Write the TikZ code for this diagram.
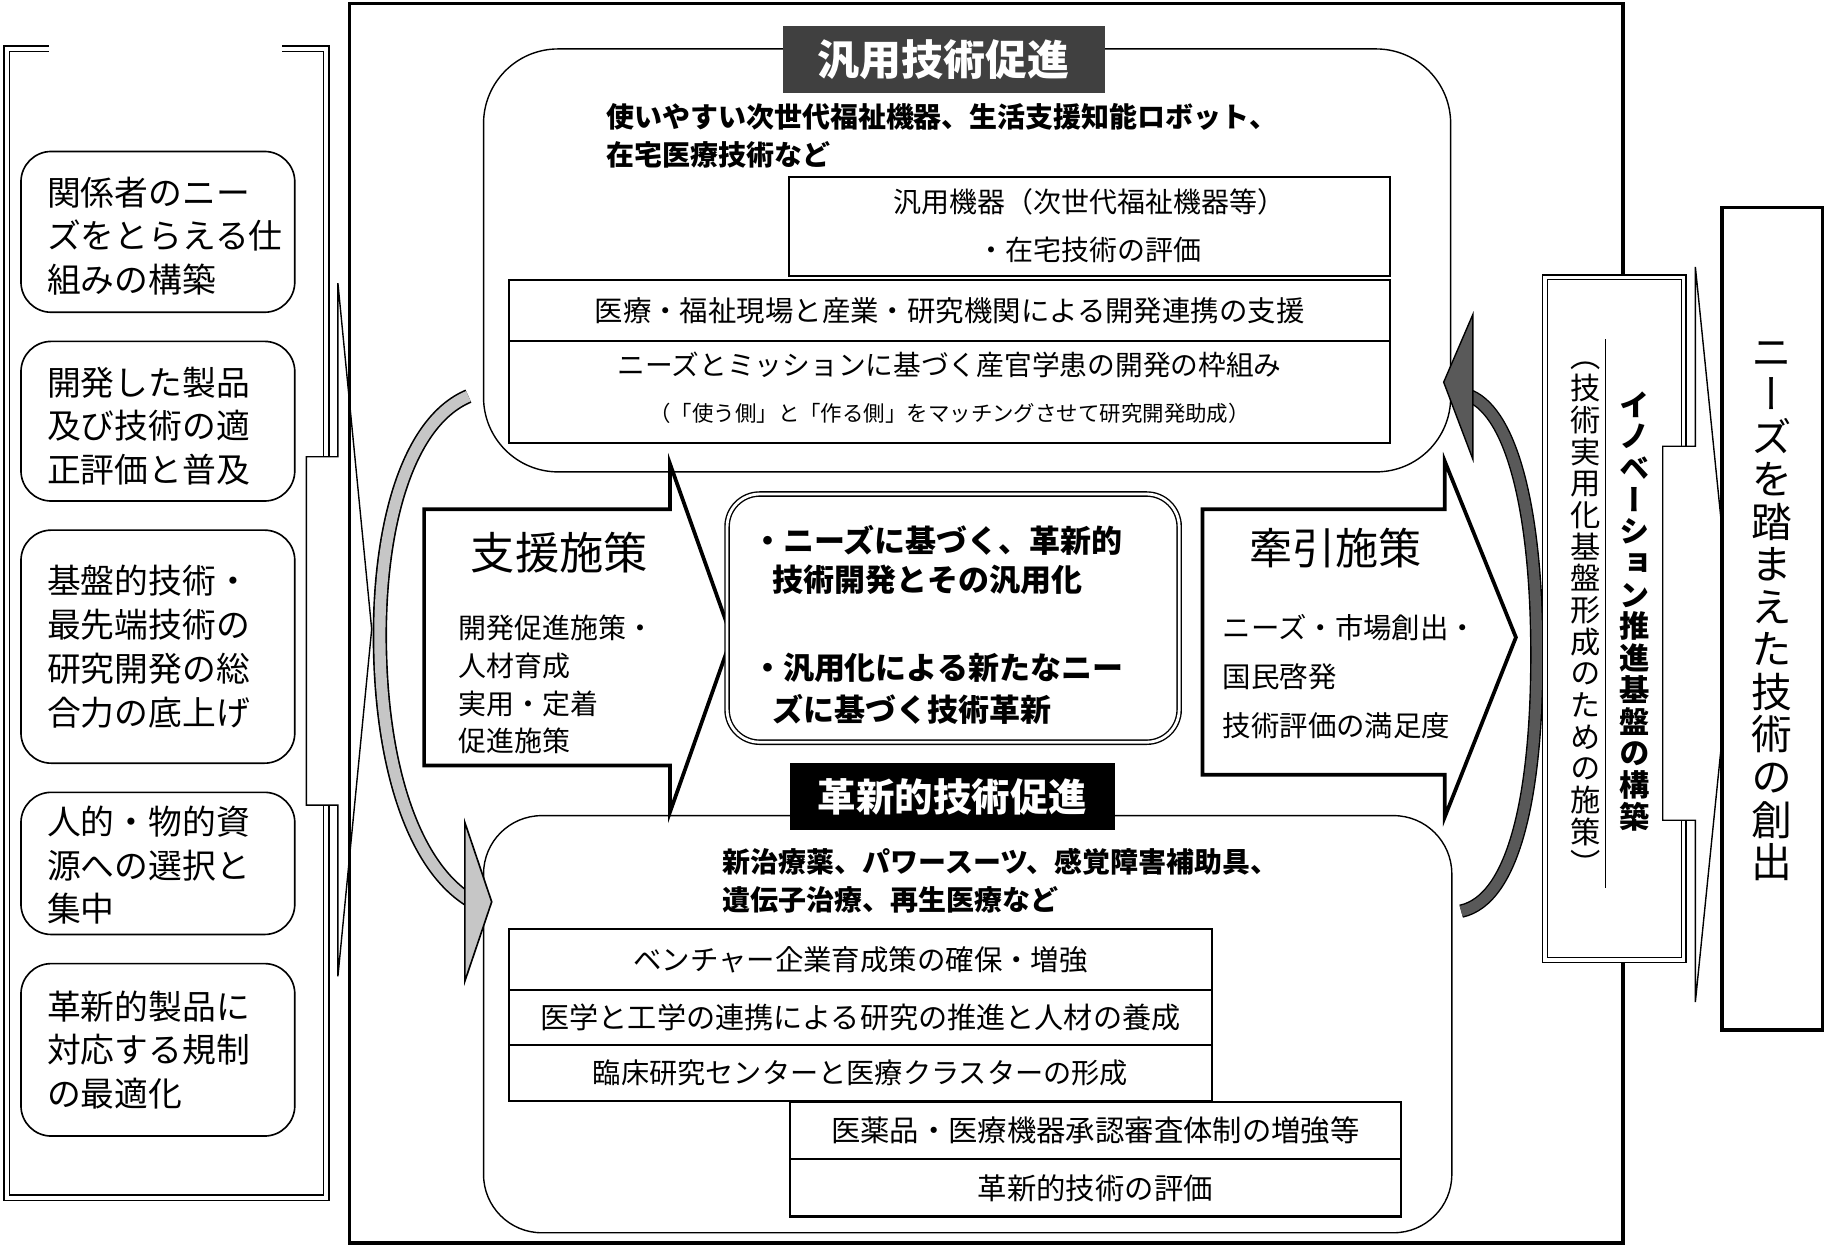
\documentclass[tikz,border=0pt]{standalone}
\usepackage{fontspec}
\newfontfamily\jp{Noto Sans CJK JP}
\newfontfamily\jpv[RawFeature={+vert}]{Noto Sans CJK JP}
\newcommand\fs[2]{\fontsize{#1}{#2}\selectfont}
\begin{document}
\begin{tikzpicture}[x=0.5pt,y=-0.5pt,
  lbox/.style={draw, line width=0.7pt, rounded corners=13pt, minimum width=117.5pt, inner sep=0pt},
  ltxt/.style={font=\jp\fs{14.5}{18.75}, align=left, inner sep=0pt, anchor=west},
  cell/.style={draw, line width=0.9pt, inner sep=0pt, font=\jp\fs{12}{14}},
  btxt/.style={font=\jp\bfseries\fs{12}{16.5}, align=left, inner sep=0pt, anchor=west},
  blockarrow/.style={draw, line width=1.6pt, fill=white, line join=miter},
  chev/.style={draw, line width=0.6pt, fill=white},
  bigbox/.style={draw, line width=0.6pt, inner sep=0pt},
  title/.style={text=white, inner sep=0pt, font=\jp\bfseries},
  band/.style={line width=0.7pt, double distance=4.8pt},
]
\useasboundingbox (0,0) rectangle (1568,1069);
\fill[white] (0,0) rectangle (1568,1069);

% left panel
\draw[line width=0.7pt, double, double distance=1.6pt] (42,42) -- (6,42) -- (6,1028) -- (280,1028) -- (280,42) -- (242,42);
\node[lbox, minimum height=69pt] (b1) at (135.5,199) {};
\node[lbox, minimum height=68.5pt] (b2) at (135.5,361.5) {};
\node[lbox, minimum height=100pt] (b3) at (135.5,555) {};
\node[lbox, minimum height=61pt] (b4) at (135.5,741) {};
\node[lbox, minimum height=74pt] (b5) at (135.5,901) {};
\node[ltxt] (lt1) at (40,202.5) {関係者のニー\\ズをとらえる仕\\組みの構築};
\node[ltxt] (lt2) at (40,365.5) {開発した製品\\及び技術の適\\正評価と普及};
\node[ltxt] (lt3) at (40,555) {基盤的技術・\\最先端技術の\\研究開発の総\\合力の底上げ};
\node[ltxt] (lt4) at (40,742.5) {人的・物的資\\源への選択と\\集中};
\node[ltxt] (lt5) at (40,901) {革新的製品に\\対応する規制\\の最適化};
\draw[chev] (290,243) -- (319,540) -- (290,838) -- (290,691) -- (263,691) -- (263,392) -- (290,392) -- cycle;

% main frame
\draw[line width=1.6pt] (300,3) rectangle (1393,1067);

% top and bottom rounded boxes
\node[bigbox, rounded corners=32pt, minimum width=415pt, minimum height=181.5pt] (topbox) at (830,223.5) {};
\node[bigbox, rounded corners=25pt, minimum width=415.5pt, minimum height=179pt] (botbox) at (830.5,879) {};

% curved bands
\draw[band, double=gray!45] (402,340) .. controls (350,362) and (326,450) .. (326,545) .. controls (326,650) and (352,740) .. (402,772);
\draw[line width=0.7pt, fill=gray!45] (399,706) -- (422,774) -- (399,842) -- cycle;
\draw[line width=0.6pt, double=black!65, double distance=4.6pt] (1254,782) .. controls (1300,772) and (1319,680) .. (1319,562) .. controls (1319,440) and (1298,356) .. (1262,340);
\draw[line width=0.6pt, fill=black!65] (1264,270) -- (1239,328) -- (1264,394) -- cycle;

% titles
\node[title, fill=black!75, minimum width=138pt, minimum height=29pt, font=\jp\bfseries\fs{18}{18}] (ttop) at (810,51) {汎用技術促進};
\node[title, fill=black, minimum width=139.5pt, minimum height=28.5pt, font=\jp\bfseries\fs{16.5}{16.5}] (tbot) at (817.5,683.5) {革新的技術促進};

% top section
\node[btxt] (topdesc) at (520,116.5) {使いやすい次世代福祉機器、生活支援知能ロボット、\\在宅医療技術など};
\node[cell, minimum width=258pt, minimum height=42.5pt] (ca) at (935,194.5) {};
\node[font=\jp\fs{12}{20.5}, align=center, inner sep=0pt] (cat) at (935,193.5) {汎用機器（次世代福祉機器等）\\・在宅技術の評価};
\node[cell, minimum width=378pt, minimum height=26.5pt, font=\jp\fs{12.2}{14}] (cb1) at (815,266.5) {医療・福祉現場と産業・研究機関による開発連携の支援};
\node[cell, minimum width=378pt, minimum height=43.5pt] (cb2) at (815,336.5) {};
\node[font=\jp\fs{11.9}{14}, inner sep=0pt] (cb2a) at (815,313) {ニーズとミッションに基づく産官学患の開発の枠組み};
\node[font=\jp\fs{9.2}{11}, inner sep=0pt] (cb2b) at (815,355) {（「使う側」と「作る側」をマッチングさせて研究開発助成）};

% bottom section
\node[btxt] (botdesc) at (620,756) {新治療薬、パワースーツ、感覚障害補助具、\\遺伝子治療、再生医療など};
\node[cell, minimum width=301.5pt, minimum height=26.5pt, font=\jp\fs{12.2}{14}] (cc1) at (738.5,823.5) {ベンチャー企業育成策の確保・増強};
\node[cell, minimum width=301.5pt, minimum height=23.5pt, font=\jp\fs{12.5}{14}] (cc2) at (738.5,873.5) {医学と工学の連携による研究の推進と人材の養成};
\node[cell, minimum width=301.5pt, minimum height=24pt, font=\jp\fs{12.1}{14}] (cc3) at (738.5,921) {臨床研究センターと医療クラスターの形成};
\node[cell, minimum width=262pt, minimum height=24.5pt, font=\jp\fs{12.6}{14}] (cd1) at (940,970.5) {医薬品・医療機器承認審査体制の増強等};
\node[cell, minimum width=262pt, minimum height=24.5pt, font=\jp\fs{12.6}{14}] (cd2) at (940,1019.5) {革新的技術の評価};

% block arrows
\draw[blockarrow] (364,437) -- (575,437) -- (575,398) -- (628,547) -- (575,697) -- (575,657) -- (364,657) -- cycle;
\node[font=\jp\fs{19}{19}, inner sep=0pt] (sien) at (480,474) {支援施策};
\node[font=\jp\fs{12}{16.2}, align=left, inner sep=0pt, anchor=west] (sienl) at (393,587.5) {開発促進施策・\\人材育成\\実用・定着\\促進施策};
\draw[blockarrow] (1032,437) -- (1240,437) -- (1240,396) -- (1301,547) -- (1240,701) -- (1240,665) -- (1032,665) -- cycle;
\node[font=\jp\fs{18.5}{18.5}, inner sep=0pt] (kenin) at (1146,470) {牽引施策};
\node[font=\jp\fs{12.2}{21}, align=left, inner sep=0pt, anchor=west] (keninl) at (1049,581) {ニーズ・市場創出・\\国民啓発\\技術評価の満足度};

% center box
\node[draw, line width=0.6pt, double, double distance=1.2pt, rounded corners=14pt, fill=white, minimum width=194pt, minimum height=106.5pt] (center) at (818,530.5) {};
\node[font=\jp\bfseries\fs{13.3}{16.5}, align=left, inner sep=0pt, anchor=west] (c1) at (645,480.5) {・ニーズに基づく、革新的\\\hspace*{9pt}技術開発とその汎用化};
\node[font=\jp\bfseries\fs{13.3}{18}, align=left, inner sep=0pt, anchor=west] (c2) at (645,591) {・汎用化による新たなニー\\\hspace*{9pt}ズに基づく技術革新};

% innovation box
\node[draw, line width=0.6pt, double, double distance=1.4pt, fill=white, minimum width=59.5pt, minimum height=293pt] (inno) at (1385.5,531) {};
\node[font=\jpv\fs{13}{13.6}, align=center, inner sep=0pt] (innop) at (1361,531) {（\\技\\術\\実\\用\\化\\基\\盤\\形\\成\\の\\た\\め\\の\\施\\策\\）};
\draw[line width=0.6pt] (1378,291) -- (1378,762);
\node[font=\jpv\bfseries\fs{13}{13.6}, align=center, inner sep=0pt] (innot) at (1403,524.5) {イ\\ノ\\ベ\\ー\\シ\\ョ\\ン\\推\\進\\基\\盤\\の\\構\\築};
\draw[chev] (1455,229) -- (1487,544) -- (1455,860) -- (1455,704) -- (1427,704) -- (1427,383) -- (1455,383) -- cycle;

% right box
\node[draw, line width=1.5pt, fill=white, minimum width=43pt, minimum height=353pt] (rbox) at (1521,531) {};
\node[font=\jpv\fs{17.5}{18.25}, align=center, inner sep=0pt] (rtext) at (1521,524.5) {ニ\\ー\\ズ\\を\\踏\\ま\\え\\た\\技\\術\\の\\創\\出};
\end{tikzpicture}
\end{document}
